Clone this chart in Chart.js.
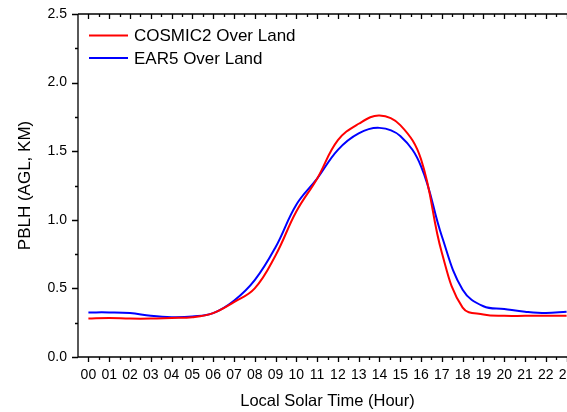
<!DOCTYPE html>
<html>
	<head>
		<meta charset="UTF-8" />
		<title>PBLH diurnal cycle</title>
		<script src="https://cdn.jsdelivr.net/npm/chart.js@4.4.0/dist/chart.umd.min.js"></script>
		<style type="text/css">
			body { margin: 0; overflow: hidden; background: #ffffff; }
			.chartBox { width: 620px; height: 412px; }
		</style>
	</head>
	<body>
		<div class="chartBox">
			<canvas id="myChart" width="620" height="412"></canvas>
		</div>

		<script>
		// local solar time, hours
		const hours = [0, 1, 2, 3, 4, 5, 6, 7, 8, 9, 10, 11, 12, 13, 14, 15, 16, 17, 18, 19, 20, 21, 22, 23];
		const cosmic2 = [0.28, 0.285, 0.28, 0.28, 0.285, 0.29, 0.32, 0.40, 0.50, 0.74, 1.06, 1.30, 1.58, 1.70, 1.76, 1.69, 1.44, 0.76, 0.36, 0.31, 0.30, 0.30, 0.30, 0.30];
		const era5 = [0.325, 0.325, 0.32, 0.30, 0.29, 0.295, 0.32, 0.41, 0.56, 0.80, 1.11, 1.30, 1.51, 1.63, 1.67, 1.61, 1.39, 0.88, 0.49, 0.37, 0.35, 0.33, 0.32, 0.33];
		const yTicks = [0, 0.5, 1.0, 1.5, 2.0, 2.5];
		const seriesNames = ['COSMIC2 Over Land', 'EAR5 Over Land'];

		const FONT = 'Arial, "Liberation Sans", sans-serif';

		// frame + ticks drawn by hand (major/minor, in/out like the original plot)
		const framePlugin = {
			id: 'frame',
			afterDraw(chart) {
				const c = chart.ctx, a = chart.chartArea;
				const x = chart.scales.x, y = chart.scales.y;
				c.save();
				c.strokeStyle = '#000';
				c.lineWidth = 1.3;
				c.beginPath();
				c.moveTo(a.left, a.top); c.lineTo(a.right, a.top);
				c.moveTo(a.left, a.top); c.lineTo(a.left, a.bottom);
				c.moveTo(a.left, a.bottom); c.lineTo(a.right, a.bottom);
				for (let v = 0; v <= 23.5; v += 0.5) {
					const px = Math.round(x.getPixelForValue(v)) + 0.5;
					const len = (v % 1 === 0) ? 5 : 3;
					c.moveTo(px, a.bottom); c.lineTo(px, a.bottom + len);
					c.moveTo(px, a.top); c.lineTo(px, a.top + len);
				}
				for (let v = 0; v <= 2.5; v += 0.25) {
					const py = Math.round(y.getPixelForValue(v)) + 0.5;
					const len = (Math.abs(v * 2 - Math.round(v * 2)) < 1e-6) ? 6 : 3;
					c.moveTo(a.left, py); c.lineTo(a.left - len, py);
				}
				c.stroke();

				// legend inside the plot, top left
				chart.data.datasets.forEach((ds, i) => {
					const ly = 35.5 + i * 22.5;
					c.strokeStyle = ds.borderColor;
					c.lineWidth = 2;
					c.beginPath();
					c.moveTo(89, ly); c.lineTo(128, ly);
					c.stroke();
					c.fillStyle = '#000';
					c.font = '17px ' + FONT;
					c.textBaseline = 'middle';
					c.fillText(ds.label, 134, ly + 1);
				});
				c.restore();
			}
		};

		const ctx = document.getElementById('myChart').getContext('2d');

		const config = {
			type: 'line',
			data: {
				datasets: [{
					label: seriesNames[0],
					borderColor: '#ff0000',
					borderWidth: 2,
					pointRadius: 0,
					tension: 0.4,
					data: hours.map((h, i) => ({ x: h, y: cosmic2[i] }))
				}, {
					label: seriesNames[1],
					borderColor: '#0000ff',
					borderWidth: 2,
					pointRadius: 0,
					tension: 0.4,
					data: hours.map((h, i) => ({ x: h, y: era5[i] }))
				}]
			},
			options: {
				responsive: false,
				animation: false,
				layout: { padding: { top: 14, right: 43, left: 0, bottom: 0 } },
				plugins: {
					legend: { display: false },
					tooltip: { enabled: false }
				},
				scales: {
					x: {
						type: 'linear',
						min: -0.5,
						max: 23.5,
						afterBuildTicks: (s) => { s.ticks = hours.map(v => ({ value: v })); },
						afterFit: (s) => { s.height = 55; s.paddingLeft = 0; s.paddingRight = 0; },
						grid: { display: false, drawTicks: false },
						border: { display: false },
						ticks: {
							padding: 10,
							color: '#000',
							font: { family: FONT, size: 14 },
							maxRotation: 0,
							autoSkip: false,
							callback: (v) => String(v).padStart(2, '0')
						},
						title: {
							display: true,
							text: 'Local Solar Time (Hour)',
							color: '#000',
							font: { family: FONT, size: 16.5 },
							padding: { top: 0, bottom: 1 }
						}
					},
					y: {
						min: 0,
						max: 2.5,
						afterBuildTicks: (s) => { s.ticks = yTicks.map(v => ({ value: v })); },
						afterFit: (s) => { s.width = 78; s.paddingTop = 0; s.paddingBottom = 0; },
						grid: { display: false, drawTicks: false },
						border: { display: false },
						ticks: {
							padding: 11,
							color: '#000',
							font: { family: FONT, size: 14 },
							callback: (v) => v.toFixed(1)
						},
						title: {
							display: true,
							text: 'PBLH (AGL, KM)',
							color: '#000',
							font: { family: FONT, size: 17 },
							padding: { top: 15, bottom: 0 }
						}
					}
				}
			},
			plugins: [framePlugin]
		};

		const myChart = new Chart(ctx, config);
		</script>
	</body>
</html>
